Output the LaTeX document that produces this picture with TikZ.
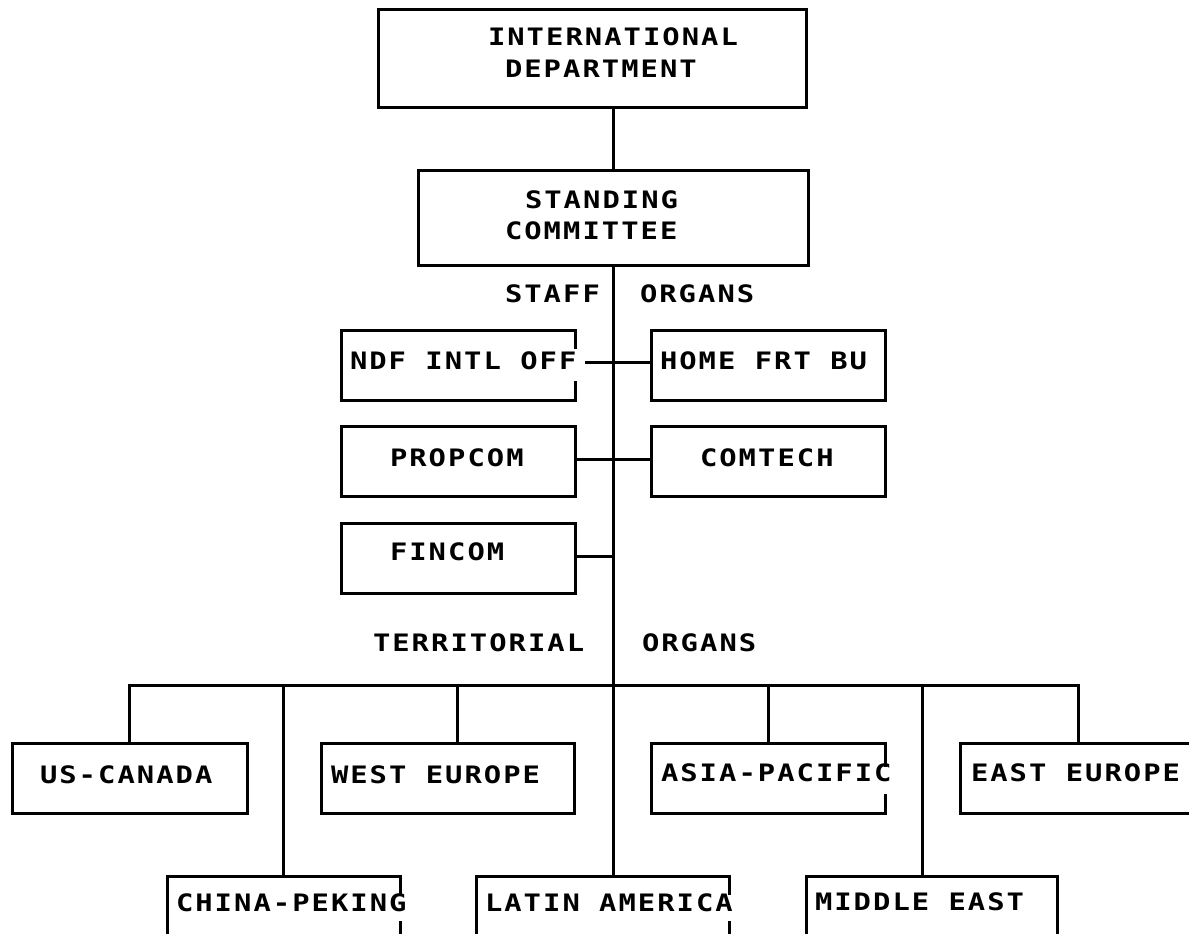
\documentclass[tikz,border=0pt]{standalone}
\usepackage{fontspec}
\newfontfamily\plotfont[FakeStretch=1.2,LetterSpace=8.5]{DejaVu Sans Mono Bold}
\usetikzlibrary{calc}
\begin{document}
\begin{tikzpicture}[x=1pt,y=-1pt,
  ln/.style={line width=3pt, line cap=rect},
  box/.style={draw, line width=3pt, rectangle, inner sep=0, outer sep=0},
  obox/.style={rectangle, inner sep=0, outer sep=0},
  txt/.style={anchor=west, inner sep=0, outer sep=0, font=\plotfont\fontsize{24}{28}\selectfont}]
\clip (0,0) rectangle (1189,934);
\fill[white] (0,0) rectangle (1189,934);
% boxes
\node[box, minimum width=428, minimum height=97] (intl) at (592,58.5) {};
\node[box, minimum width=390, minimum height=95] (stand) at (613,217.5) {};
\node[obox, minimum width=234, minimum height=70] (ndf) at (458,365) {};
\node[box, minimum width=234, minimum height=70] (home) at (768,365) {};
\node[box, minimum width=234, minimum height=70] (prop) at (458,461) {};
\node[box, minimum width=234, minimum height=70] (comt) at (768,461) {};
\node[box, minimum width=234, minimum height=70] (fin) at (458,558) {};
\node[box, minimum width=235, minimum height=70] (usca) at (129.5,778) {};
\node[box, minimum width=253, minimum height=70] (west) at (447.5,778) {};
\node[obox, minimum width=234, minimum height=70] (asia) at (768,778) {};
\node[box, minimum width=253, minimum height=70] (east) at (1086.5,778) {};
\node[obox, minimum width=233, minimum height=70] (china) at (283.5,911) {};
\node[obox, minimum width=253, minimum height=70] (latin) at (602.5,911) {};
\node[box, minimum width=251, minimum height=70] (mid) at (931.5,911) {};
% broken outlines
\draw[ln] ($(ndf.north east)+(0,17)$) -- (ndf.north east) -- (ndf.north west) -- (ndf.south west) -- (ndf.south east) -- ($(ndf.south east)+(0,-18)$);
\draw[ln] ($(asia.north east)+(0,22)$) -- (asia.north east) -- (asia.north west) -- (asia.south west) -- (asia.south east) -- ($(asia.south east)+(0,-18)$);
\draw[ln] ($(china.north east)+(0,17)$) -- (china.north east) -- (china.north west) -- (china.south west) -- (china.south east) -- ($(china.south east)+(0,-24)$);
\draw[ln] ($(latin.north east)+(0,17)$) -- (latin.north east) -- (latin.north west) -- (latin.south west) -- (latin.south east) -- ($(latin.south east)+(0,-24)$);
% connectors
\coordinate (bus) at (613,685);
\draw[ln] (stand.north |- intl.south) -- (stand.north);
\draw[ln] (stand.south) -- ([xshift=137pt]latin.north west);
\coordinate (ndfc) at ($(ndf.east)+(11,-3)$);
\draw[ln] (ndfc) -- (ndfc -| home.west);
\draw[ln] ([yshift=2pt]prop.east) -- ([yshift=2pt]prop.east -| comt.west);
\draw[ln] ([yshift=2pt]fin.east) -- ([yshift=2pt]fin.east -| bus);
\draw[ln] (usca.north) |- (bus) -| ([xshift=118pt]east.north west);
\draw[ln] (china.north) |- (bus);
\draw[ln] ([xshift=136pt]west.north west) |- (bus);
\draw[ln] (asia.north) |- (bus);
\draw[ln] ([xshift=116pt]mid.north west) |- (bus);
% texts
\node[txt] (t1) at (488,37) {INTERNATIONAL};
\node[txt] (t2) at (505,69) {DEPARTMENT};
\node[txt] (t3) at (525,200) {STANDING};
\node[txt] (t4) at (505,231) {COMMITTEE};
\node[txt] (t5) at (505,294) {STAFF};
\node[txt] (t6) at (640,294) {ORGANS};
\node[txt] (t7) at (350,361) {NDF INTL OFF};
\node[txt] (t8) at (660,361) {HOME FRT BU};
\node[txt] (t9) at (390,458) {PROPCOM};
\node[txt] (t10) at (700,458) {COMTECH};
\node[txt] (t11) at (390,552) {FINCOM};
\node[txt] (t12) at (373,643) {TERRITORIAL};
\node[txt] (t13) at (642,643) {ORGANS};
\node[txt] (t14) at (40,775) {US-CANADA};
\node[txt] (t15) at (331,775) {WEST EUROPE};
\node[txt] (t16) at (661,773) {ASIA-PACIFIC};
\node[txt] (t17) at (971,773) {EAST EUROPE};
\node[txt] (t18) at (176,903) {CHINA-PEKING};
\node[txt] (t19) at (485,903) {LATIN AMERICA};
\node[txt] (t20) at (815,902) {MIDDLE EAST};
\end{tikzpicture}
\end{document}
